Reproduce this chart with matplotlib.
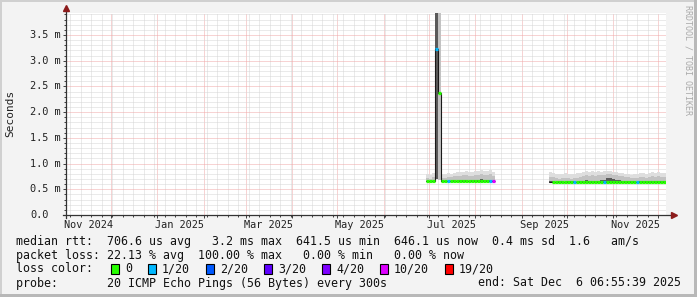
import numpy as np
import pandas as pd
import matplotlib
matplotlib.use('Agg')
from matplotlib import pyplot as plt
from matplotlib import dates as mdates
from matplotlib import transforms
from matplotlib.patches import Rectangle

plt.rcParams['font.family'] = ['DejaVu Sans Mono', 'DejaVu Sans']

W, H = 697, 297

# graph window: 400 days up to the "end:" stamp
t_end = pd.Timestamp('2025-12-06 06:55:39')
t_start = t_end - pd.Timedelta(days=400)

# y axis (values in ms, rrdtool prints them as "x m")
y_ticks = [0.0, 0.5, 1.0, 1.5, 2.0, 2.5, 3.0, 3.5]
y_labels = ['0.0', '0.5 m', '1.0 m', '1.5 m', '2.0 m', '2.5 m', '3.0 m', '3.5 m']
y_top = 3.92

# x labels, centred half a month after the month start (rrdtool style)
x_labels = ['Nov 2024', 'Jan 2025', 'Mar 2025', 'May 2025', 'Jul 2025', 'Sep 2025', 'Nov 2025']
x_label_dates = ['2024-11-16', '2025-01-16', '2025-03-16', '2025-05-16',
                 '2025-07-16', '2025-09-16', '2025-11-16']

# loss colours
loss_steps = [0, 1, 2, 3, 4, 10, 19]
loss_names = ['0', '1/20', '2/20', '3/20', '4/20', '10/20', '19/20']
loss_colors = ['#26ff00', '#00b8ff', '#0059ff', '#5e00ff', '#7e00ff', '#dd00ff', '#ff0000']

# first block of data, 2 day steps from 29 Jun 2025 (ms)
seg1_start = '2025-06-29'
seg1_median = [0.655, 0.655, 0.660, 3.230, 2.370, 0.655, 0.660, 0.655, 0.655, 0.660, 0.655, 0.655,
               0.660, 0.655, 0.655, 0.660, 0.655, 0.655, 0.660, 0.655, 0.655, 0.660, 0.655]
seg1_loss = [0, 0, 0, 1, 0, 0, 0, 1, 0, 0, 0, 0, 0, 0, 0, 0, 0, 0, 0, 0, 0, 1, 10]
seg1_lo = [0.640, 0.640, 0.640, 0.700, 0.680, 0.640, 0.640, 0.640, 0.640, 0.640, 0.640, 0.640,
           0.640, 0.640, 0.640, 0.640, 0.640, 0.640, 0.640, 0.640, 0.640, 0.640, 0.640]
seg1_core = [0.66, 0.66, 0.67, 5.00, 0.68, 0.66, 0.67, 0.66, 0.67, 0.68, 0.67, 0.68,
             0.69, 0.68, 0.67, 0.68, 0.69, 0.68, 0.70, 0.69, 0.68, 0.69, 0.67]
seg1_mid = [0.72, 0.70, 0.73, 5.00, 5.00, 0.71, 0.72, 0.73, 0.74, 0.75, 0.76, 0.75,
            0.77, 0.78, 0.76, 0.75, 0.77, 0.78, 0.79, 0.77, 0.78, 0.79, 0.76]
seg1_hi = [0.80, 0.78, 0.82, 5.00, 5.00, 0.79, 0.80, 0.81, 0.80, 0.82, 0.84, 0.83,
           0.84, 0.85, 0.84, 0.83, 0.85, 0.86, 0.88, 0.85, 0.86, 0.87, 0.84]

# second block, 2 day steps from 19 Sep 2025 (ms); -1 = no loss colour drawn
seg2_start = '2025-09-19'
seg2_median = [0.645, 0.645, 0.640, 0.645, 0.645, 0.640, 0.645, 0.645, 0.645, 0.640,
               0.645, 0.645, 0.650, 0.645, 0.645, 0.640, 0.645, 0.645, 0.645, 0.650,
               0.645, 0.645, 0.650, 0.650, 0.645, 0.645, 0.640, 0.645, 0.645, 0.645,
               0.640, 0.645, 0.645, 0.640, 0.645, 0.645, 0.640, 0.645, 0.645]
seg2_loss = [-1, 0, 0, 0, 0, 0, 0, 0, 1, 0,
             0, 0, 0, 0, 0, 0, 0, 0, 1, 0,
             0, 0, 0, 0, 0, 0, 0, 0, 0, 1,
             0, 0, 0, 0, 0, 0, 0, 0, 0]
seg2_lo = [0.630] * 39
seg2_core = [0.66, 0.66, 0.65, 0.66, 0.66, 0.65, 0.66, 0.66, 0.66, 0.65,
             0.66, 0.67, 0.68, 0.67, 0.66, 0.66, 0.67, 0.68, 0.69, 0.71,
             0.72, 0.70, 0.69, 0.68, 0.67, 0.66, 0.66, 0.66, 0.66, 0.65,
             0.66, 0.66, 0.66, 0.67, 0.66, 0.66, 0.66, 0.67, 0.66]
seg2_mid = [0.74, 0.73, 0.71, 0.70, 0.71, 0.72, 0.71, 0.70, 0.71, 0.72,
            0.74, 0.76, 0.77, 0.76, 0.77, 0.76, 0.78, 0.77, 0.78, 0.79,
            0.79, 0.78, 0.77, 0.76, 0.75, 0.74, 0.73, 0.72, 0.72, 0.71,
            0.73, 0.74, 0.72, 0.73, 0.75, 0.74, 0.76, 0.74, 0.73]
seg2_hi = [0.84, 0.82, 0.80, 0.79, 0.80, 0.81, 0.80, 0.79, 0.80, 0.81,
           0.82, 0.84, 0.85, 0.84, 0.85, 0.84, 0.86, 0.84, 0.85, 0.86,
           0.85, 0.84, 0.83, 0.82, 0.82, 0.80, 0.79, 0.78, 0.80, 0.79,
           0.81, 0.82, 0.80, 0.81, 0.83, 0.82, 0.84, 0.82, 0.81]

fig = plt.figure(figsize=(W / 100, H / 100), dpi=100, facecolor='#f3f3f3')


def px(x, y):
    return x / W, 1 - y / H


# frame
fig.add_artist(Rectangle((0, 1 - 2 / H), 1, 2 / H, transform=fig.transFigure, color='#d0d0d0', lw=0))
fig.add_artist(Rectangle((0, 0), 2 / W, 1, transform=fig.transFigure, color='#d0d0d0', lw=0))
fig.add_artist(Rectangle((0, 0), 1, 3 / H, transform=fig.transFigure, color='#b8b8b8', lw=0))
fig.add_artist(Rectangle((1 - 3 / W, 0), 3 / W, 1, transform=fig.transFigure, color='#b8b8b8', lw=0))

ax_l, ax_r, ax_b, ax_t = 66, 666, 215, 215 - y_top * (180 / 3.5)
ax = fig.add_axes([ax_l / W, 1 - ax_b / H, (ax_r - ax_l) / W, (ax_b - ax_t) / H])
ax.set_facecolor('white')
ax.set_xlim(mdates.date2num(t_start), mdates.date2num(t_end))
ax.set_ylim(0, y_top)
for s in ax.spines.values():
    s.set_visible(False)

# grid
ax.xaxis.set_major_locator(mdates.MonthLocator())
ax.xaxis.set_minor_locator(mdates.WeekdayLocator(byweekday=mdates.MO))
ax.set_yticks(y_ticks)
ax.set_yticks(np.arange(0, 3.95, 0.1), minor=True)
ax.set_axisbelow(True)
ax.grid(which='minor', color='#d6d6d6', linestyle=(0, (1, 1)), linewidth=0.72)
ax.grid(which='major', color='#f0a8a8', linestyle=(0, (1, 1)), linewidth=0.72)
ax.tick_params(which='both', labelbottom=False, labelleft=False, color='#444444', width=0.72,
               direction='out')
ax.tick_params(which='major', length=2.5)
ax.tick_params(which='minor', length=1.5)


def draw_segment(start, median, loss, lo, core, mid, hi):
    edges = mdates.date2num(pd.date_range(start, periods=len(median) + 1, freq='2D'))
    ax.stairs(hi, edges, baseline=lo, fill=True, color='#dedede', lw=0)
    ax.stairs(mid, edges, baseline=lo, fill=True, color='#c2c2c2', lw=0)
    ax.stairs(core, edges, baseline=lo, fill=True, color='#5a5a5a', lw=0)
    ax.stairs(median, edges, baseline=None, color='#1a1a1a', lw=0.8)
    for i, m in enumerate(median):
        if loss[i] < 0:
            continue
        c = loss_colors[loss_steps.index(loss[i])]
        ax.hlines(m, edges[i], edges[i + 1], colors=c, lw=2.3, capstyle='butt')


draw_segment(seg1_start, seg1_median, seg1_loss, seg1_lo, seg1_core, seg1_mid, seg1_hi)
draw_segment(seg2_start, seg2_median, seg2_loss, seg2_lo, seg2_core, seg2_mid, seg2_hi)

# axis lines with arrows
ax.plot([0, 0], [-3 / 201.5, 1 + 5 / 201.5], transform=ax.transAxes, color='#333333',
        lw=0.9, clip_on=False)
ax.plot([-3 / 600, 1 + 8 / 600], [0, 0], transform=ax.transAxes, color='#333333',
        lw=0.9, clip_on=False)
ax.plot([0], [1 + 5 / 201.5], transform=ax.transAxes, marker='^', ms=4.5, color='#8c1c1c',
        clip_on=False)
ax.plot([1 + 8 / 600], [0], transform=ax.transAxes, marker='>', ms=4.5, color='#8c1c1c',
        clip_on=False)

# tick labels
ytr = transforms.blended_transform_factory(fig.transFigure, ax.transData)
for v, lab in zip(y_ticks, y_labels):
    fig.text(30 / W, v, lab, transform=ytr, ha='left', va='center', fontsize=7.4, color='#222222')
xtr = transforms.blended_transform_factory(ax.transData, fig.transFigure)
for d, lab in zip(x_label_dates, x_labels):
    ax.text(mdates.date2num(pd.Timestamp(d)), 1 - 224.5 / H, lab, transform=xtr, ha='center',
            va='center', fontsize=7.4, color='#222222', clip_on=False)

fig.text(*px(10, 113), 'Seconds', rotation=90, ha='center', va='center', fontsize=8,
         color='#222222')
fig.text(*px(688, 60), 'RRDTOOL / TOBI OETIKER', rotation=-90, ha='center', va='center',
         fontsize=6, color='#aaaaaa')

# legend
fs = 8.4
fig.text(*px(16, 241), 'median rtt:  706.6 us avg   3.2 ms max  641.5 us min  646.1 us now  '
         '0.4 ms sd  1.6   am/s', ha='left', va='center', fontsize=fs, color='#111111')
fig.text(*px(16, 255), 'packet loss: 22.13 % avg  100.00 % max   0.00 % min   0.00 % now',
         ha='left', va='center', fontsize=fs, color='#111111')
fig.text(*px(16, 269), 'loss color:', ha='left', va='center', fontsize=fs, color='#111111')
x = 111
for name, c in zip(loss_names, loss_colors):
    fig.add_artist(Rectangle((x / W, 1 - 274 / H), 8 / W, 10 / H, transform=fig.transFigure,
                             facecolor=c, edgecolor='black', lw=0.8))
    fig.text(*px(x + 14, 269), name, ha='left', va='center', fontsize=fs, color='#111111')
    x += 14 + 7 * len(name) + 16
fig.text(*px(16, 283), 'probe:       20 ICMP Echo Pings (56 Bytes) every 300s', ha='left',
         va='center', fontsize=fs, color='#111111')
fig.text(*px(681, 283), 'end: Sat Dec  6 06:55:39 2025', ha='right', va='center', fontsize=fs,
         color='#111111')

plt.savefig('out.png', dpi=100, facecolor=fig.get_facecolor())
